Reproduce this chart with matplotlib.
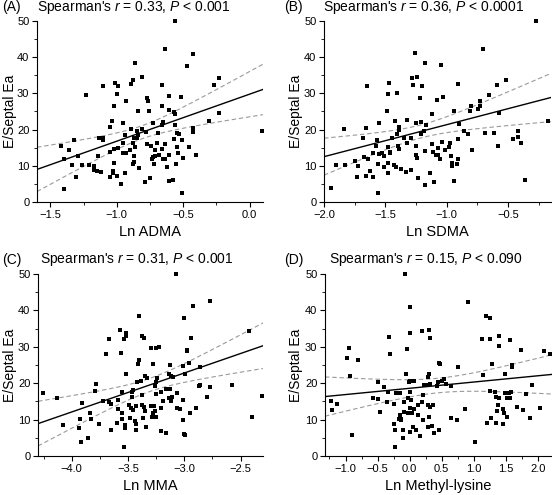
import numpy as np
import matplotlib
matplotlib.use("Agg")
import matplotlib.pyplot as plt
from matplotlib.ticker import MultipleLocator, FuncFormatter

plt.rcParams['font.family'] = ['Liberation Sans', 'DejaVu Sans']
plt.rcParams['mathtext.fontset'] = 'custom'
plt.rcParams['mathtext.rm'] = 'Liberation Sans'
plt.rcParams['mathtext.it'] = 'Liberation Sans:italic'

# (A) Ln ADMA vs E/Septal Ea
adma_x = [-0.56, -0.635, -0.43, -0.47, -0.86, -0.81, -0.88, -0.89, -1.01, -0.99,
          -1.105, -0.66, -0.27, -0.23, -1.23, -1.0, -0.61, -0.52, -0.93, -0.765,
          -0.77, -1.02, -0.66, -0.84, -0.755, -0.605, -0.57, -0.56, -0.23, -1.035,
          -0.305, -0.73, -0.65, -0.66, -0.95, -1.05, -0.56, -0.895, -0.81, -0.43,
          -0.43, -0.85, -0.78, -0.69, -0.55, -0.53, 0.09, -1.42, -1.325, -1.36,
          -1.40, -1.34, -1.29, -1.265, -1.31, -1.395, -1.21, -1.175, -1.175, -1.15,
          -1.14, -1.13, -1.10, -1.10, -1.115, -1.05, -1.02, -1.02, -0.99, -1.03,
          -1.05, -1.03, -1.0, -0.97, -0.94, -0.955, -0.95, -0.93, -0.94, -0.90,
          -0.87, -0.86, -0.85, -0.84, -0.87, -0.87, -0.88, -0.83, -0.88, -0.785,
          -0.75, -0.77, -0.74, -0.73, -0.735, -0.715, -0.72, -0.71, -0.70, -0.68,
          -0.66, -0.64, -0.65, -0.635, -0.625, -0.61, -0.61, -0.58, -0.57, -0.55,
          -0.54, -0.555, -0.51, -0.505, -0.51, -0.46, -0.405]
adma_y = [50.0, 42.4, 41.0, 37.6, 38.4, 34.5, 33.6, 32.7, 32.9, 32.0,
          32.0, 32.2, 32.2, 34.2, 29.6, 29.9, 29.4, 29.0, 28.0, 27.9,
          28.8, 26.4, 26.6, 25.2, 25.0, 25.4, 24.9, 24.4, 24.5, 22.4,
          22.3, 21.7, 22.0, 21.4, 21.9, 20.8, 21.2, 20.3, 20.2, 20.5,
          19.4, 19.6, 19.4, 19.1, 19.1, 18.7, 19.6, 15.6, 17.2, 14.4,
          11.8, 10.2, 12.8, 10.3, 6.9, 3.7, 10.3, 9.9, 8.9, 8.6,
          12.7, 17.7, 17.7, 17.1, 8.4, 13.9, 10.7, 14.6, 14.8, 8.6,
          7.0, 7.9, 7.1, 4.9, 7.9, 16.4, 13.4, 13.6, 18.5, 14.3,
          17.6, 15.3, 17.6, 18.5, 12.7, 11.0, 10.4, 9.5, 16.4, 5.5,
          6.7, 16.0, 15.6, 12.5, 11.9, 14.3, 10.4, 12.8, 16.4, 13.0,
          14.6, 16.0, 11.8, 12.0, 9.7, 13.0, 5.8, 6.0, 17.3, 15.3,
          13.4, 10.4, 17.1, 12.1, 2.4, 15.3, 13.1]

# (B) Ln SDMA
sdma_x = [-0.27, -0.705, -1.257, -1.175, -1.046, -1.28, -1.238, -0.514, -1.47, -0.91,
          -1.648, -1.273, -1.205, -0.587, -1.405, -1.477, -0.656, -1.216, -1.033, -1.08,
          -0.727, -0.798, -0.727, -0.746, -0.814, -0.937, -1.49, -0.577, -1.12, -1.32,
          -1.424, -1.213, -1.25, -1.55, -1.17, -0.902, -1.656, -1.84, -1.39, -1.385,
          -1.405, -1.183, -1.208, -0.863, -0.828, -0.691, -0.418, -0.172, -1.683, -1.571,
          -1.448, -1.347, -1.29, -1.32, -1.574, -1.478, -1.393, -1.388, -1.464, -1.46,
          -1.675, -1.642, -1.60, -1.53, -1.51, -1.55, -1.749, -1.72, -1.899, -1.825,
          -1.626, -1.604, -1.656, -1.727, -1.557, -1.51, -1.478, -1.478, -1.426, -1.41,
          -1.37, -1.33, -1.29, -1.94, -1.56, -1.25, -1.25, -1.24, -1.23, -1.18,
          -1.18, -1.134, -1.12, -1.115, -1.10, -1.087, -1.074, -1.071, -1.052, -1.04,
          -1.01, -0.97, -0.978, -0.962, -0.959, -0.959, -0.943, -0.91, -0.91, -0.918,
          -0.79, -0.617, -0.582, -0.459, -0.418, -0.396, -0.363]
sdma_y = [50.0, 42.4, 41.2, 38.4, 37.8, 34.3, 34.6, 33.8, 33.0, 32.7,
          32.1, 32.2, 32.0, 32.3, 30.0, 29.7, 29.5, 28.8, 29.0, 28.1,
          28.0, 26.6, 26.5, 25.6, 25.2, 25.2, 25.2, 24.6, 24.4, 22.6,
          22.4, 22.2, 21.9, 21.9, 21.4, 21.5, 20.4, 20.2, 20.8, 19.9,
          18.8, 19.6, 18.9, 19.6, 18.9, 19.1, 19.6, 22.3, 17.6, 17.1,
          17.8, 17.8, 17.8, 16.2, 15.5, 15.3, 15.4, 14.6, 13.9, 13.4,
          12.5, 12.0, 13.6, 13.4, 12.7, 13.2, 11.3, 10.0, 10.3, 10.3,
          8.6, 7.0, 7.2, 7.0, 10.4, 9.6, 10.7, 8.0, 10.2, 9.6,
          9.1, 8.4, 8.8, 3.8, 2.6, 15.4, 13.0, 12.2, 6.7, 4.7,
          14.2, 7.9, 16.0, 13.7, 5.5, 13.1, 15.0, 13.0, 11.9, 16.6,
          14.3, 16.4, 15.1, 12.7, 10.7, 10.0, 5.8, 17.3, 12.0, 10.5,
          14.3, 19.1, 15.5, 17.4, 18.0, 16.4, 6.1]

# (C) Ln MMA
mma_x = [-3.07, -2.77, -2.92, -3.0, -3.406, -3.569, -3.52, -3.516, -3.539, -3.673,
         -3.376, -3.356, -2.428, -2.94, -3.70, -3.56, -3.228, -3.252, -3.293, -2.98,
         -2.973, -3.406, -3.41, -3.276, -3.127, -2.96, -2.86, -3.015, -3.52, -3.345,
         -3.33, -3.24, -3.14, -3.12, -3.10, -2.997, -3.382, -3.42, -3.25, -2.58,
         -2.87, -2.86, -2.77, -3.256, -3.783, -3.797, -4.26, -4.13, -3.91, -3.72,
         -3.67, -3.65, -3.59, -3.551, -3.465, -3.462, -3.456, -3.38, -3.25, -3.204,
         -3.163, -3.124, -3.136, -3.11, -3.062, -3.01, -3.19, -3.12, -2.80, -2.31,
         -3.587, -3.495, -3.47, -3.456, -3.427, -3.38, -3.356, -3.347, -3.296, -3.27,
         -3.264, -3.276, -3.287, -3.255, -3.204, -3.065, -3.036, -2.953, -2.90, -3.01,
         -3.936, -3.93, -3.92, -4.08, -3.84, -3.83, -3.86, -3.76, -3.655, -3.60,
         -3.557, -3.551, -3.53, -3.53, -3.48, -3.436, -3.427, -3.37, -3.43, -3.34,
         -3.21, -3.16, -3.54, -3.0, -2.99, -2.40]
mma_y = [50.0, 42.6, 41.2, 37.8, 38.5, 34.7, 33.9, 32.9, 32.1, 32.1,
         33.0, 32.3, 34.3, 32.3, 28.0, 28.2, 30.0, 29.7, 29.6, 28.8,
         29.0, 26.5, 25.2, 25.3, 25.1, 25.5, 24.5, 24.7, 22.6, 21.9,
         21.3, 21.5, 22.4, 22.0, 21.6, 22.4, 20.6, 20.4, 20.2, 19.6,
         19.3, 19.4, 19.0, 19.3, 19.8, 17.8, 17.3, 15.8, 14.6, 15.1,
         14.7, 14.4, 15.3, 17.6, 16.2, 17.6, 18.0, 16.7, 17.0, 17.6,
         18.3, 18.5, 15.8, 16.1, 17.4, 15.5, 15.0, 15.1, 16.2, 16.5,
         13.0, 14.1, 13.2, 12.7, 13.8, 13.9, 13.5, 12.4, 13.6, 13.8,
         12.4, 11.7, 10.8, 10.7, 13.3, 13.3, 12.8, 11.8, 13.3, 10.0,
         7.6, 10.3, 3.9, 8.4, 11.9, 10.3, 5.0, 8.9, 7.1, 9.2,
         11.7, 10.3, 8.4, 7.7, 10.5, 9.6, 8.9, 10.5, 7.1, 8.1,
         6.9, 6.3, 2.6, 6.0, 5.7, 10.6]

# (D) Ln Methyl-lysine
lys_x = [-0.065, 0.013, 0.909, 1.185, 1.247, -0.326, 0.008, 0.19, 0.30, 0.32,
         1.133, 1.247, 1.393, 1.57, -0.977, -0.81, -0.945, -0.305, -0.044, 1.393,
         1.732, 2.09, 2.19, 0.456, 0.466, 0.757, 1.29, 1.6, 1.6, 1.48,
         1.143, -0.06, 0.295, -0.935, 0.28, 0.534, 0.508, 0.008, 0.07, -0.01,
         -0.49, 0.22, 0.27, 0.31, 0.44, 0.43, 0.57, 0.64, -0.40, 1.91,
         0.008, -0.143, -0.22, -0.34, 1.247, 1.33, 1.58, 1.55, 1.49, 1.52,
         1.56, 1.35, 1.39, 1.81, -1.23, -1.21, -1.13, -0.486, -0.36, -0.575,
         -0.46, -0.237, -0.09, -0.02, 0.018, 0.133, 0.185, 0.205, 0.013, 0.065,
         -0.02, -0.09, 0.044, 0.133, 0.21, 0.284, 0.31, 0.362, 0.30, -0.143,
         -0.13, -0.128, -0.17, -0.237, -0.227, -0.1, -0.107, -0.232, 0.06, 0.1,
         0.164, 0.003, 0.29, 0.35, 0.38, 0.45, -0.90, 0.64, 0.74, 0.87,
         1.02, 1.2, 1.27, 1.35, 1.46, 1.46, 1.47, 1.37, 1.52, 1.68,
         1.77, 1.88, 2.04, 1.38]
lys_y = [50.0, 41.0, 42.4, 38.4, 37.8, 32.8, 33.9, 34.3, 34.6, 32.3,
         32.1, 32.1, 33.0, 32.0, 26.8, 26.4, 29.6, 28.1, 29.5, 30.1,
         29.1, 28.9, 28.0, 25.6, 25.2, 24.5, 25.2, 25.1, 24.4, 22.5,
         22.2, 22.4, 22.4, 21.9, 21.6, 21.1, 20.6, 20.6, 20.6, 20.2,
         20.4, 19.6, 19.4, 19.9, 20.2, 19.2, 19.8, 19.3, 19.0, 19.4,
         17.6, 17.2, 17.2, 17.6, 17.8, 17.6, 17.6, 17.2, 17.3, 16.0,
         15.8, 16.3, 16.0, 16.9, 15.0, 12.6, 14.4, 15.6, 14.9, 16.0,
         12.1, 14.2, 14.7, 16.0, 15.5, 14.1, 14.9, 16.7, 13.2, 13.0,
         11.7, 12.1, 11.7, 11.2, 10.0, 13.9, 13.5, 13.9, 10.6, 11.4,
         10.3, 9.9, 10.3, 8.9, 7.2, 7.1, 5.0, 2.5, 8.0, 7.2,
         5.4, 6.6, 7.9, 8.3, 6.3, 7.1, 5.9, 10.4, 9.8, 12.8,
         3.9, 9.1, 10.5, 9.1, 8.9, 12.8, 11.7, 12.3, 10.8, 13.4,
         12.6, 10.5, 13.1, 14.1]

tags = ["(A)", "(B)", "(C)", "(D)"]
rho = ["0.33", "0.36", "0.31", "0.15"]
pval = ["0.001", "0.0001", "0.001", "0.090"]
xlabels = ["Ln ADMA", "Ln SDMA", "Ln MMA", "Ln Methyl-lysine"]
xlims = [(-1.6, 0.1), (-2.0, -0.15), (-4.3, -2.3), (-1.32, 2.22)]

# regression line and 95% band
fit_slope = [13.0, 8.84, 10.7, 1.72]
fit_icpt = [29.8, 30.2, 54.9, 18.6]
band_xmean = [-0.81, -1.21, -3.31, 0.45]
band_h0 = [1.8, 1.8, 1.8, 2.0]
band_h1 = [7.4, 6.05, 5.93, 2.83]

xdata = [adma_x, sdma_x, mma_x, lys_x]
ydata = [adma_y, sdma_y, mma_y, lys_y]

W, H = 552, 495
boxes = [(37, 21, 226, 181), (324, 21, 227, 181), (38, 274, 225, 182), (325, 274, 227, 182)]
tag_x = [2, 284, 2, 284]
title_x = [134, 424, 137, 426]
ylab_x = [10, 296, 10, 296]

fig = plt.figure(figsize=(W / 100, H / 100), dpi=100)

fmt = FuncFormatter(lambda v, pos: ("%.1f" % v).replace("-", "\u2212") if abs(v) > 1e-9 else "0.0")

for i in range(4):
    bx, by, bw, bh = boxes[i]
    ax = fig.add_axes([bx / W, 1 - (by + bh) / H, bw / W, bh / H])
    ax.scatter(xdata[i], ydata[i], marker='s', s=10, color='black', linewidths=0,
               zorder=3, clip_on=False)

    gx = np.linspace(xlims[i][0], xlims[i][1], 200)
    gy = fit_icpt[i] + fit_slope[i] * gx
    hw = np.sqrt(band_h0[i] ** 2 + (band_h1[i] * (gx - band_xmean[i])) ** 2)
    ax.plot(gx, gy, color='black', lw=1.0, zorder=2)
    ax.plot(gx, gy + hw, color='#9a9a9a', lw=0.8, ls=(0, (4, 2.5)), zorder=1)
    ax.plot(gx, gy - hw, color='#9a9a9a', lw=0.8, ls=(0, (4, 2.5)), zorder=1)

    ax.set_xlim(xlims[i])
    ax.set_ylim(0, 50)
    ax.xaxis.set_major_locator(MultipleLocator(0.5))
    ax.xaxis.set_minor_locator(MultipleLocator(0.25))
    ax.yaxis.set_major_locator(MultipleLocator(10))
    ax.yaxis.set_minor_locator(MultipleLocator(5))
    ax.xaxis.set_major_formatter(fmt)
    for sp in ['top', 'right']:
        ax.spines[sp].set_visible(False)
    for sp in ['left', 'bottom']:
        ax.spines[sp].set_linewidth(0.8)
    ax.tick_params(which='major', direction='out', length=3.5, width=0.8, labelsize=8, pad=2)
    ax.tick_params(which='minor', direction='out', length=2, width=0.6)

    ax.set_xlabel(xlabels[i], fontsize=10.5)
    ax.xaxis.set_label_coords(0.5, -30 / bh)
    ax.xaxis.label.set_verticalalignment('center')
    ax.set_ylabel("E/Septal Ea", fontsize=10)
    ax.yaxis.set_label_coords((ylab_x[i] - bx) / bw, 0.5)
    ax.yaxis.label.set_verticalalignment('center')

    ty = 1 - (by - 14) / H
    fig.text(title_x[i] / W, ty, r"Spearman's $r$ = %s, $P$ < %s" % (rho[i], pval[i]),
             ha='center', va='center', fontsize=10)
    fig.text(tag_x[i] / W, ty, tags[i], ha='left', va='center', fontsize=10)

fig.savefig("out.png", dpi=100)
